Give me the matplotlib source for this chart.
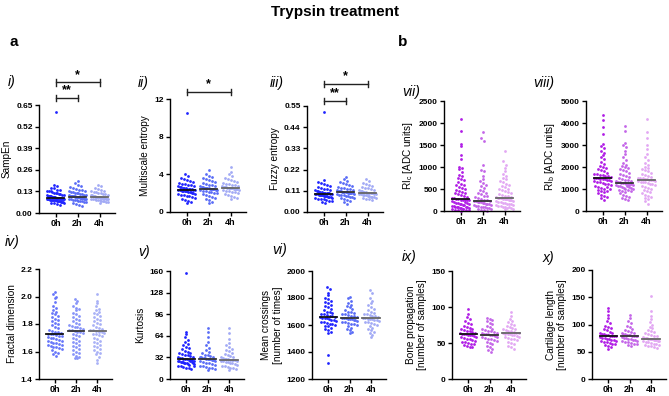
import matplotlib
matplotlib.use("Agg")
import matplotlib.pyplot as plt
import numpy as np

plt.rcParams["font.family"] = ["Liberation Sans", "DejaVu Sans"]

W, H = 669, 396
groups = ["0h", "2h", "4h"]

# --- values (approximate, one list per time point) ---
sampen = [
    [0.61, 0.17, 0.16, 0.15, 0.15, 0.14, 0.14, 0.13, 0.13, 0.13, 0.125, 0.12, 0.12, 0.118, 0.115, 0.112,
     0.11, 0.11, 0.108, 0.105, 0.104, 0.102, 0.10, 0.10, 0.099, 0.098, 0.096, 0.095, 0.094, 0.093, 0.092,
     0.091, 0.09, 0.09, 0.089, 0.088, 0.087, 0.086, 0.085, 0.085, 0.084, 0.083, 0.082, 0.081, 0.08, 0.08,
     0.079, 0.078, 0.077, 0.076, 0.075, 0.074, 0.072, 0.07, 0.068, 0.066, 0.064, 0.062, 0.06, 0.058, 0.055, 0.05],
    [0.19, 0.18, 0.17, 0.16, 0.155, 0.15, 0.145, 0.14, 0.138, 0.135, 0.13, 0.128, 0.125, 0.122, 0.12, 0.118,
     0.115, 0.113, 0.11, 0.109, 0.107, 0.105, 0.104, 0.103, 0.102, 0.101, 0.10, 0.10, 0.099, 0.098, 0.097,
     0.096, 0.095, 0.094, 0.093, 0.092, 0.091, 0.09, 0.089, 0.088, 0.087, 0.086, 0.085, 0.084, 0.082, 0.08,
     0.078, 0.076, 0.074, 0.072, 0.07, 0.067, 0.064, 0.06, 0.055, 0.048, 0.04],
    [0.17, 0.16, 0.15, 0.145, 0.14, 0.135, 0.13, 0.127, 0.124, 0.12, 0.118, 0.115, 0.112, 0.11, 0.108, 0.106,
     0.104, 0.102, 0.1, 0.099, 0.098, 0.097, 0.096, 0.095, 0.095, 0.094, 0.093, 0.092, 0.091, 0.09, 0.089,
     0.088, 0.087, 0.086, 0.085, 0.084, 0.083, 0.082, 0.08, 0.078, 0.076, 0.074, 0.072, 0.07, 0.067, 0.064, 0.06],
]
multiscale = [
    [10.5, 4.0, 3.8, 3.6, 3.5, 3.4, 3.3, 3.2, 3.1, 3.0, 2.95, 2.9, 2.85, 2.8, 2.75, 2.7, 2.65, 2.6, 2.55, 2.5,
     2.48, 2.45, 2.42, 2.4, 2.38, 2.35, 2.33, 2.3, 2.3, 2.28, 2.25, 2.22, 2.2, 2.18, 2.15, 2.12, 2.1, 2.05,
     2.0, 1.95, 1.9, 1.85, 1.8, 1.75, 1.7, 1.6, 1.5, 1.4, 1.3, 1.2, 1.1, 1.0],
    [4.5, 4.0, 3.8, 3.7, 3.6, 3.5, 3.4, 3.3, 3.2, 3.1, 3.0, 2.9, 2.85, 2.8, 2.75, 2.7, 2.65, 2.6, 2.58, 2.55,
     2.52, 2.5, 2.48, 2.46, 2.44, 2.42, 2.4, 2.38, 2.35, 2.3, 2.25, 2.2, 2.15, 2.1, 2.05, 2.0, 1.9, 1.8, 1.7,
     1.6, 1.5, 1.4, 1.3, 1.1, 1.0],
    [4.8, 4.3, 4.0, 3.8, 3.6, 3.5, 3.4, 3.3, 3.2, 3.1, 3.0, 2.95, 2.9, 2.85, 2.8, 2.75, 2.7, 2.65, 2.62, 2.6,
     2.58, 2.55, 2.53, 2.5, 2.48, 2.45, 2.42, 2.4, 2.35, 2.3, 2.25, 2.2, 2.15, 2.1, 2.0, 1.9, 1.8, 1.7, 1.6,
     1.5, 1.4],
]
fuzzy = [
    [0.52, 0.165, 0.155, 0.15, 0.145, 0.14, 0.135, 0.13, 0.125, 0.12, 0.118, 0.115, 0.112, 0.11, 0.108, 0.106,
     0.104, 0.102, 0.1, 0.1, 0.099, 0.098, 0.097, 0.096, 0.095, 0.094, 0.093, 0.092, 0.091, 0.09, 0.089, 0.088,
     0.087, 0.086, 0.085, 0.084, 0.083, 0.082, 0.08, 0.078, 0.076, 0.074, 0.072, 0.07, 0.068, 0.065, 0.062,
     0.058, 0.055, 0.05, 0.045],
    [0.18, 0.17, 0.16, 0.155, 0.15, 0.145, 0.14, 0.135, 0.13, 0.127, 0.124, 0.121, 0.118, 0.115, 0.113, 0.111,
     0.109, 0.107, 0.106, 0.105, 0.104, 0.103, 0.102, 0.101, 0.1, 0.099, 0.098, 0.096, 0.094, 0.092, 0.09,
     0.088, 0.086, 0.084, 0.082, 0.08, 0.078, 0.075, 0.072, 0.068, 0.064, 0.058, 0.05, 0.04],
    [0.17, 0.16, 0.15, 0.145, 0.14, 0.135, 0.13, 0.126, 0.122, 0.118, 0.115, 0.112, 0.11, 0.108, 0.106, 0.104,
     0.102, 0.1, 0.1, 0.099, 0.098, 0.097, 0.096, 0.095, 0.094, 0.093, 0.092, 0.09, 0.088, 0.086, 0.084, 0.082,
     0.08, 0.078, 0.076, 0.074, 0.072, 0.07, 0.066, 0.062],
]
ri_c = [
    [2080, 1820, 1530, 1480, 1270, 1180, 1000, 980, 950, 880, 820, 800, 760, 720, 700, 660, 620, 600, 580, 550,
     520, 500, 480, 460, 440, 420, 400, 380, 360, 340, 320, 300, 290, 280, 270, 260, 250, 240, 220, 200, 190,
     180, 160, 150, 140, 120, 110, 100, 90, 80, 70, 60, 50, 40, 30, 20, 10, 260, 240, 200, 180, 150, 130, 100,
     80, 60, 40, 25, 15],
    [1790, 1650, 1600, 1040, 940, 900, 800, 720, 680, 640, 600, 560, 520, 480, 450, 420, 400, 380, 350, 330,
     310, 290, 270, 250, 240, 230, 225, 220, 215, 210, 200, 190, 180, 170, 160, 150, 140, 130, 120, 110, 100,
     90, 80, 70, 60, 50, 40, 30, 20, 10],
    [1370, 1130, 1050, 980, 900, 840, 800, 760, 720, 680, 650, 620, 600, 570, 540, 510, 490, 470, 450, 430,
     410, 390, 370, 350, 330, 320, 310, 300, 295, 290, 285, 280, 275, 270, 265, 260, 250, 240, 230, 220, 210,
     200, 190, 180, 170, 160, 150, 140, 130, 120, 110, 100, 80, 60, 90, 70, 50, 40],
]
ri_b = [
    [4350, 4150, 3800, 3500, 3050, 2950, 2850, 2750, 2650, 2550, 2450, 2350, 2250, 2150, 2050, 2000, 1950, 1900,
     1850, 1800, 1750, 1700, 1680, 1650, 1620, 1600, 1580, 1550, 1520, 1500, 1480, 1460, 1450, 1440, 1420,
     1400, 1380, 1350, 1320, 1300, 1280, 1250, 1220, 1200, 1150, 1100, 1050, 1000, 950, 900, 850, 800, 750,
     700, 650, 600, 500, 1100, 1000, 900],
    [3850, 3650, 3100, 3000, 2900, 2750, 2600, 2450, 2300, 2200, 2100, 2050, 2000, 1950, 1900, 1850, 1800, 1750,
     1700, 1650, 1600, 1550, 1500, 1460, 1420, 1400, 1380, 1350, 1320, 1300, 1290, 1280, 1260, 1240, 1220,
     1200, 1180, 1150, 1120, 1100, 1050, 1000, 950, 900, 850, 800, 750, 700, 650, 600, 550, 500, 1250, 1200,
     1150, 1100, 1050, 1000, 950, 900],
    [4200, 3600, 3300, 3000, 2800, 2600, 2450, 2300, 2200, 2100, 2000, 1950, 1900, 1850, 1800, 1750, 1700, 1650,
     1600, 1560, 1520, 1500, 1480, 1460, 1440, 1420, 1400, 1390, 1380, 1360, 1340, 1320, 1300, 1280, 1250,
     1220, 1200, 1150, 1100, 1050, 1000, 950, 900, 850, 800, 750, 700, 650, 600, 550, 450, 300],
]
fractal = [
    [2.03, 2.02, 2.0, 1.99, 1.96, 1.93, 1.92, 1.9, 1.89, 1.88, 1.87, 1.86, 1.85, 1.84, 1.83, 1.82, 1.81, 1.8,
     1.79, 1.78, 1.77, 1.76, 1.75, 1.745, 1.74, 1.735, 1.73, 1.73, 1.725, 1.72, 1.715, 1.71, 1.705, 1.7, 1.695,
     1.69, 1.685, 1.68, 1.675, 1.67, 1.665, 1.66, 1.655, 1.65, 1.645, 1.64, 1.635, 1.63, 1.625, 1.62, 1.61,
     1.6, 1.59, 1.58, 1.57],
    [1.98, 1.97, 1.95, 1.93, 1.92, 1.91, 1.9, 1.88, 1.87, 1.86, 1.85, 1.84, 1.83, 1.82, 1.81, 1.8, 1.79, 1.785,
     1.78, 1.775, 1.77, 1.765, 1.76, 1.755, 1.75, 1.745, 1.74, 1.735, 1.73, 1.72, 1.71, 1.7, 1.69, 1.68, 1.67,
     1.66, 1.65, 1.64, 1.63, 1.62, 1.61, 1.6, 1.59, 1.58, 1.57, 1.56, 1.55, 1.55],
    [2.02, 1.97, 1.95, 1.93, 1.91, 1.9, 1.89, 1.88, 1.87, 1.86, 1.85, 1.84, 1.83, 1.82, 1.81, 1.8, 1.79, 1.78,
     1.77, 1.765, 1.76, 1.755, 1.75, 1.745, 1.74, 1.735, 1.73, 1.725, 1.72, 1.71, 1.7, 1.69, 1.68, 1.67, 1.66,
     1.65, 1.64, 1.63, 1.62, 1.61, 1.6, 1.59, 1.58, 1.56, 1.54, 1.52],
]
kurtosis = [
    [157, 70, 66, 62, 58, 55, 52, 50, 48, 46, 44, 42, 40, 39, 38, 37, 36, 35, 34, 33, 32, 31, 30.5, 30, 29.5,
     29, 28.5, 28, 27.5, 27, 26.5, 26, 25.5, 25, 24.5, 24, 23.5, 23, 22, 21, 20, 19, 18, 17, 16, 15,
     26, 25, 24, 22, 20],
    [76, 70, 62, 55, 50, 46, 43, 40, 38, 36, 35, 34, 33, 32.5, 32, 31.5, 31, 30.5, 30, 30, 29.5, 29, 28.5, 28,
     27.5, 27, 26, 25, 24, 23, 22, 21, 20, 19, 18, 17, 16, 15, 14],
    [76, 68, 60, 54, 50, 47, 45, 43, 41, 39, 37, 35, 34, 33, 32, 31, 30, 29.5, 29, 28.5, 28, 28, 27.5, 27, 26.5,
     26, 25.5, 25, 24, 23, 22, 21, 20, 19, 18, 17, 16, 15, 13],
]
crossings = [
    [1880, 1870, 1840, 1820, 1800, 1790, 1780, 1770, 1760, 1750, 1740, 1730, 1720, 1710, 1700, 1695, 1690, 1685,
     1680, 1675, 1670, 1665, 1660, 1658, 1655, 1652, 1650, 1645, 1640, 1635, 1630, 1625, 1620, 1615, 1610,
     1605, 1600, 1595, 1590, 1580, 1570, 1560, 1550, 1540, 1380, 1320],
    [1810, 1800, 1780, 1760, 1750, 1740, 1730, 1720, 1710, 1700, 1695, 1690, 1685, 1680, 1675, 1670, 1665, 1660,
     1655, 1652, 1650, 1648, 1645, 1642, 1640, 1635, 1630, 1625, 1620, 1615, 1610, 1605, 1600, 1590, 1580,
     1570, 1560, 1550, 1540],
    [1860, 1840, 1800, 1780, 1760, 1745, 1730, 1720, 1710, 1700, 1690, 1685, 1680, 1675, 1670, 1665, 1660, 1655,
     1650, 1648, 1645, 1642, 1640, 1635, 1630, 1625, 1620, 1615, 1610, 1600, 1590, 1580, 1570, 1560, 1550,
     1540, 1525, 1510],
]
bone = [
    [97, 90, 86, 83, 80, 78, 76, 74, 72, 71, 70, 69, 68, 67, 66, 65, 64, 63.5, 63, 62.5, 62, 61.5, 61, 60.5, 60,
     59, 58, 57, 56, 55, 54, 53, 52, 51, 50, 49, 48, 47, 46, 45, 44],
    [85, 84, 82, 80, 78, 76, 74, 72, 70, 69, 68, 67, 66, 65, 64, 63.5, 63, 62.5, 62, 61.5, 61, 60.5, 60, 59, 58,
     57, 56, 55, 54, 53, 52, 50, 48, 46, 44, 42, 40, 38],
    [93, 88, 84, 81, 79, 77, 75, 73, 72, 71, 70, 69, 68, 67, 66, 65, 64.5, 64, 63.5, 63, 62.5, 62, 61.5, 61, 60,
     59, 58, 57, 56, 55, 54, 52, 50, 48, 46, 44, 42],
]
cartilage = [
    [130, 125, 118, 112, 106, 102, 98, 95, 93, 91, 89, 87, 85, 84, 83, 82, 81, 80, 79.5, 79, 78.5, 78, 77, 76,
     75, 74, 73, 72, 71, 70, 69, 68, 67, 66, 65, 64, 62, 60, 58, 55],
    [118, 112, 106, 102, 98, 95, 92, 90, 88, 86, 85, 84, 83, 82, 81, 80.5, 80, 79.5, 79, 78.5, 78, 77, 76, 75,
     74, 73, 72, 71, 70, 69, 68, 67, 66, 65, 64, 62, 60],
    [152, 125, 115, 110, 105, 100, 96, 93, 90, 88, 86, 84, 82, 80, 79, 78, 77, 76, 75, 74.5, 74, 73.5, 73, 72.5,
     72, 71.5, 71, 70.5, 70, 69, 68, 67, 66, 65, 64, 63, 62, 61, 60, 58, 57],
]

blues = ["#1f24ff", "#5a6cf6", "#a2aaf5"]
light_blues = ["#6676fa", "#8794f8", "#a9b1f6"]
purples = ["#b01de6", "#c466e8", "#e2a8f3"]
median_colors = ["#111111", "#333333", "#666666"]


def px_axes(fig, left, top, right, bottom):
    return fig.add_axes([left / W, 1 - bottom / H, (right - left) / W, (bottom - top) / H])


def swarm_x(values, ylim, height_px, px_per_unit=22.0, bin_px=4.0, step_px=3.0, half_width=0.37):
    # simple beeswarm: group points by pixel row, spread each row sideways
    vals = np.asarray(values, float)
    py = (vals - ylim[0]) / (ylim[1] - ylim[0]) * height_px
    bins = np.round(py / bin_px).astype(int)
    xs = np.zeros(len(vals))
    for b in np.unique(bins):
        idx = np.where(bins == b)[0]
        n = len(idx)
        step = step_px / px_per_unit
        if (n - 1) * step > 2 * half_width:
            step = 2 * half_width / max(n - 1, 1)
        xs[idx] = (np.arange(n) - (n - 1) / 2) * step
    return xs


def draw_panel(ax, data, colors, ylim, yticks, ylabels, ylabel, height_px):
    for i, vals in enumerate(data):
        xs = i + swarm_x(vals, ylim, height_px)
        ax.scatter(xs, vals, s=4.0, color=colors[i], linewidths=0, zorder=2, clip_on=False)
        med = np.median(vals)
        ax.plot([i - 0.4, i + 0.4], [med, med], color=median_colors[i], lw=1.3, zorder=3)
    ax.set_xlim(-0.75, 2.7)
    ax.set_ylim(*ylim)
    ax.set_yticks(yticks)
    ax.set_yticklabels(ylabels, fontsize=6, fontweight="bold")
    ax.set_xticks(range(3))
    ax.set_xticklabels(groups, fontsize=6.5, fontweight="bold")
    ax.set_ylabel(ylabel, fontsize=7.2, labelpad=3)
    for side in ("top", "right"):
        ax.spines[side].set_visible(False)
    for side in ("left", "bottom"):
        ax.spines[side].set_linewidth(1.0)
    ax.tick_params(length=3, width=1, pad=1.5)


def bracket(ax, x0, x1, y, stars):
    tr = ax.get_xaxis_transform()
    dy = 0.03
    ax.plot([x0, x1], [y, y], color="#222222", lw=1, transform=tr, clip_on=False)
    for xx in (x0, x1):
        ax.plot([xx, xx], [y - dy, y + dy], color="#222222", lw=1, transform=tr, clip_on=False)
    ax.text((x0 + x1) / 2, y + 0.015, stars, transform=tr, ha="center", va="bottom",
            fontsize=9, fontweight="bold")


fig = plt.figure(figsize=(W / 100, H / 100), dpi=100)

# top row
ax_i = px_axes(fig, 39, 105, 115, 213)
draw_panel(ax_i, sampen, blues, (0, 0.65), [0, 0.13, 0.26, 0.39, 0.52, 0.65],
           ["0.00", "0.13", "0.26", "0.39", "0.52", "0.65"], "SampEn", 108)
bracket(ax_i, 0, 2, 1.21, "*")
bracket(ax_i, 0, 1, 1.065, "**")

ax_ii = px_axes(fig, 170, 99, 246, 212)
draw_panel(ax_ii, multiscale, blues, (0, 12), [0, 4, 8, 12], ["0", "4", "8", "12"],
           "Multiscale entropy", 113)
bracket(ax_ii, 0, 2, 1.062, "*")

ax_iii = px_axes(fig, 307, 106, 383, 212)
draw_panel(ax_iii, fuzzy, blues, (0, 0.55), [0, 0.11, 0.22, 0.33, 0.44, 0.55],
           ["0.00", "0.11", "0.22", "0.33", "0.44", "0.55"], "Fuzzy entropy", 106)
bracket(ax_iii, 0, 2, 1.208, "*")
bracket(ax_iii, 0, 1, 1.047, "**")

ax_vii = px_axes(fig, 444, 101, 520, 211)
draw_panel(ax_vii, ri_c, purples, (0, 2500), [0, 500, 1000, 1500, 2000, 2500],
           ["0", "500", "1000", "1500", "2000", "2500"], r"RI$_\mathregular{c}$ [ADC units]", 110)

ax_viii = px_axes(fig, 586, 101, 662, 211)
draw_panel(ax_viii, ri_b, purples, (0, 5000), [0, 1000, 2000, 3000, 4000, 5000],
           ["0", "1000", "2000", "3000", "4000", "5000"], r"RI$_\mathregular{b}$ [ADC units]", 110)

# bottom row
ax_iv = px_axes(fig, 39, 269, 112, 379)
draw_panel(ax_iv, fractal, light_blues, (1.4, 2.2), [1.4, 1.6, 1.8, 2.0, 2.2],
           ["1.4", "1.6", "1.8", "2.0", "2.2"], "Fractal dimension", 110)

ax_v = px_axes(fig, 170, 271, 244, 379)
draw_panel(ax_v, kurtosis, blues, (0, 160), [0, 32, 64, 96, 128, 160],
           ["0", "32", "64", "96", "128", "160"], "Kurtosis", 108)

ax_vi = px_axes(fig, 312, 271, 386, 379)
draw_panel(ax_vi, crossings, blues, (1200, 2000), [1200, 1400, 1600, 1800, 2000],
           ["1200", "1400", "1600", "1800", "2000"], "Mean crossings\n[number of times]", 108)

ax_ix = px_axes(fig, 452, 271, 526, 379)
draw_panel(ax_ix, bone, purples, (0, 150), [0, 50, 100, 150], ["0", "50", "100", "150"],
           "Bone propagation\n[number of samples]", 108)

ax_x = px_axes(fig, 592, 270, 666, 379)
draw_panel(ax_x, cartilage, purples, (0, 200), [0, 50, 100, 150, 200], ["0", "50", "100", "150", "200"],
           "Cartilage length\n[number of samples]", 109)

# titles and panel tags
fig.text(335 / W, 1 - 12 / H, "Trypsin treatment", ha="center", va="center", fontsize=11, fontweight="bold")
fig.text(10 / W, 1 - 42 / H, "a", ha="left", va="center", fontsize=11, fontweight="bold")
fig.text(398 / W, 1 - 42 / H, "b", ha="left", va="center", fontsize=11, fontweight="bold")

tags = [("i)", 8, 82), ("ii)", 138, 83), ("iii)", 270, 83), ("vii)", 402, 92), ("viii)", 533, 83),
        ("iv)", 5, 242), ("v)", 138, 252), ("vi)", 272, 250), ("ix)", 402, 257), ("x)", 543, 258)]
for txt, x, y in tags:
    fig.text(x / W, 1 - y / H, txt, ha="left", va="center", fontsize=10, fontstyle="italic")

fig.savefig("out.png", dpi=100)
plt.close(fig)
